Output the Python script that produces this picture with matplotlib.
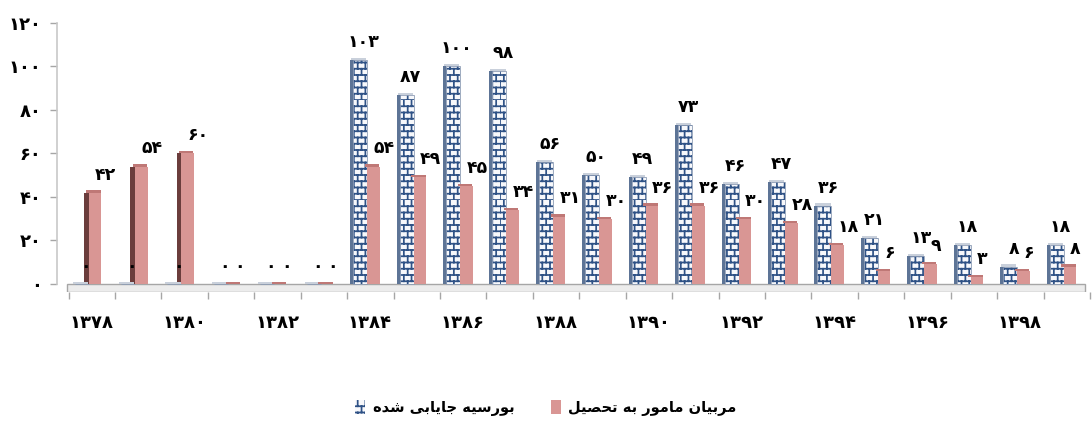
import matplotlib as mpl
mpl.use('Agg')

import numpy as np
import matplotlib.pyplot as plt
from matplotlib import hatch as mhatch
from matplotlib.path import Path
from matplotlib.patches import Patch

# data
years = list(range(1378, 1400))
boursieh = [0, 0, 0, 0, 0, 0, 103, 87, 100, 98, 56, 50, 49, 73, 46, 47, 36, 21, 13, 18, 8, 18]
morabian = [42, 54, 60, 0, 0, 0, 54, 49, 45, 34, 31, 30, 36, 36, 30, 28, 18, 6, 9, 3, 6, 8]
label_boursieh = 'بورسیه جایابی شده'
label_morabian = 'مربیان مامور به تحصیل'
yticks = [0, 20, 40, 60, 80, 100, 120]

FA_DIGITS = str.maketrans('0123456789', '۰۱۲۳۴۵۶۷۸۹')

def fa(n):
    return str(n).translate(FA_DIGITS)

# minimal persian shaping (isolated, final, initial, medial)
FORMS = {
    'ا': ('\uFE8D', '\uFE8E', None, None),
    'ب': ('\uFE8F', '\uFE90', '\uFE91', '\uFE92'),
    'ت': ('\uFE95', '\uFE96', '\uFE97', '\uFE98'),
    'ج': ('\uFE9D', '\uFE9E', '\uFE9F', '\uFEA0'),
    'ح': ('\uFEA1', '\uFEA2', '\uFEA3', '\uFEA4'),
    'د': ('\uFEA9', '\uFEAA', None, None),
    'ر': ('\uFEAD', '\uFEAE', None, None),
    'س': ('\uFEB1', '\uFEB2', '\uFEB3', '\uFEB4'),
    'ش': ('\uFEB5', '\uFEB6', '\uFEB7', '\uFEB8'),
    'ص': ('\uFEB9', '\uFEBA', '\uFEBB', '\uFEBC'),
    'ل': ('\uFEDD', '\uFEDE', '\uFEDF', '\uFEE0'),
    'م': ('\uFEE1', '\uFEE2', '\uFEE3', '\uFEE4'),
    'ن': ('\uFEE5', '\uFEE6', '\uFEE7', '\uFEE8'),
    'ه': ('\uFEE9', '\uFEEA', '\uFEEB', '\uFEEC'),
    'و': ('\uFEED', '\uFEEE', None, None),
    'ی': ('\uFBFC', '\uFBFD', '\uFBFE', '\uFBFF'),
}

def shape(text):
    out = []
    for i, c in enumerate(text):
        if c not in FORMS:
            out.append(c)
            continue
        prev = text[i - 1] if i > 0 else ''
        nxt = text[i + 1] if i + 1 < len(text) else ''
        jp = prev in FORMS and FORMS[prev][2] is not None
        jn = FORMS[c][2] is not None and nxt in FORMS
        f = FORMS[c]
        if jp and jn:
            out.append(f[3])
        elif jp:
            out.append(f[1])
        elif jn:
            out.append(f[2])
        else:
            out.append(f[0])
    return ''.join(out[::-1])


# brick hatch (replaces the '+' pattern)
class BrickHatch(mhatch.HatchPatternBase):
    def __init__(self, hatch, density):
        self.rows = 16 if '+' in hatch else 0
        self.cols = 13
        self.num_vertices = self.rows * 2 * (1 + self.cols)

    def set_vertices_and_codes(self, vertices, codes):
        v = []
        for k in range(self.rows):
            y0 = k / self.rows
            y1 = (k + 1) / self.rows
            v += [(0, y0), (1, y0)]
            for j in range(self.cols):
                x = (j + 0.5 * (k % 2)) / self.cols
                v += [(x, y0), (x, y1)]
        vertices[:] = np.array(v)
        codes[0::2] = Path.MOVETO
        codes[1::2] = Path.LINETO

mhatch._hatch_types = [BrickHatch]

plt.rcParams['font.family'] = ['DejaVu Sans']
plt.rcParams['font.weight'] = 'bold'
plt.rcParams['hatch.linewidth'] = 1.25

fig = plt.figure(figsize=(10.92, 4.21), dpi=100)
ax = fig.add_axes([57 / 1092, 1 - 292 / 421, (1090 - 57) / 1092, (292 - 23) / 421])

x = np.arange(len(years))
pink = '#d99694'
pink_side = '#6b3d3c'
pink_top = '#bf7876'
brick_edge = '#2f5286'
brick_side = '#5d7496'
brick_top = '#c9d0db'

# pink side face (behind brick)
ax.bar(x - 0.01, morabian, width=0.1, color=pink_side, zorder=2)
# brick side face + front
ax.bar(x - 0.29, boursieh, width=0.07, color=brick_side, zorder=3)
ax.bar(x - 0.11, boursieh, width=0.30, color='#f7f8fb', edgecolor=brick_edge,
       hatch='+', linewidth=0, zorder=3)
ax.bar(x - 0.11, boursieh, width=0.30, fill=False, edgecolor='#8e9db5',
       linewidth=0.6, zorder=3)
ax.bar(x - 0.14, 1.0, width=0.33, bottom=boursieh, color=brick_top, zorder=3)
# pink front
ax.bar(x + 0.175, morabian, width=0.27, color=pink, zorder=4)
ax.bar(x + 0.145, 1.0, width=0.31, bottom=morabian, color=pink_top, zorder=4)

# floor
ax.axhspan(-3.7, 0, xmin=0.01, xmax=0.995, facecolor='#ececec', edgecolor='#a6a6a6',
           linewidth=1, zorder=1)

for i in range(len(years)):
    ax.annotate(fa(boursieh[i]), (x[i] - 0.03, boursieh[i]), xytext=(0, 13),
                textcoords='offset points', ha='center', va='center',
                fontsize=12.5, fontweight='bold', zorder=6)
    ax.annotate(fa(morabian[i]), (x[i] + 0.18, morabian[i]), xytext=(0, 13),
                textcoords='offset points', ha='left', va='center',
                fontsize=12.5, fontweight='bold', zorder=6)

ax.set_xlim(-0.64, 21.48)
ax.set_ylim(-3.7, 120)
ax.set_yticks(yticks)
ax.set_yticklabels([fa(v) for v in yticks], fontsize=13, fontweight='bold')
ax.tick_params(axis='y', length=5, width=1, color='#a6a6a6', pad=6)

ax.set_xticks(x[::2] + 0.1)
ax.set_xticklabels([fa(y) for y in years[::2]], fontsize=13, fontweight='bold')
ax.set_xticks(np.arange(len(years) + 1) - 0.39, minor=True)
ax.tick_params(axis='x', which='major', length=0, pad=16)
ax.tick_params(axis='x', which='minor', length=5, width=1, color='#a6a6a6')

for s in ['top', 'right']:
    ax.spines[s].set_visible(False)
ax.spines['left'].set_bounds(0, 120)
ax.spines['left'].set_color('#c8c8c8')
ax.spines['left'].set_linewidth(1.2)
ax.spines['bottom'].set_visible(False)

handles = [
    Patch(facecolor='#f7f8fb', edgecolor=brick_edge, hatch='+', linewidth=0),
    Patch(facecolor=pink, edgecolor='none'),
]
fig.legend(handles, [shape(label_boursieh), shape(label_morabian)],
           loc='center', bbox_to_anchor=(546 / 1092, 1 - 408 / 421), ncol=2,
           frameon=False, fontsize=10.5, handlelength=0.7, handleheight=1.1,
           handletextpad=0.5, columnspacing=2.5)

fig.savefig('out.png', dpi=100)
